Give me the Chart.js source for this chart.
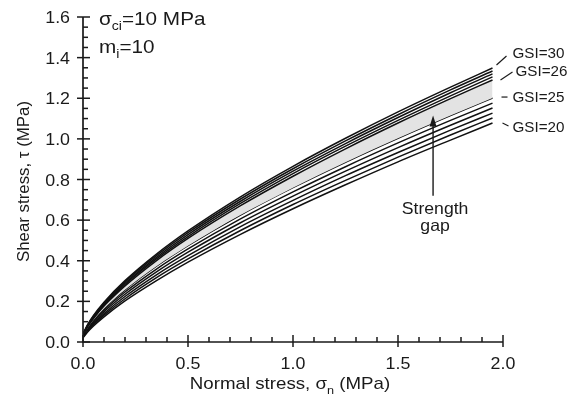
<!DOCTYPE html>
<html>
<head>
    <meta charset="utf-8">
    <style>
        html, body {
            margin: 0;
            padding: 0;
            background: #fff;
        }

        #wrap {
            width: 571px;
            height: 401px;
        }
    </style>
    <script src="https://cdn.jsdelivr.net/npm/chart.js"></script>
    <title>Shear strength envelopes</title>
</head>
<body>
    <div id="wrap"><canvas id="envelopes"></canvas></div>

    <script>
        // normal stress (MPa) where each envelope was read
        const sigmaN = [0, 0.02, 0.05, 0.1, 0.2, 0.35, 0.5, 0.75, 1.0, 1.25, 1.5, 1.75, 1.95];

        // shear stress (MPa) for each GSI value
        const gsi30 = [0.039, 0.082, 0.131, 0.196, 0.302, 0.433, 0.547, 0.715, 0.865, 1.003, 1.133, 1.255, 1.349];
        const gsi29 = [0.038, 0.080, 0.127, 0.191, 0.296, 0.425, 0.538, 0.704, 0.853, 0.990, 1.119, 1.241, 1.334];
        const gsi28 = [0.037, 0.077, 0.124, 0.186, 0.289, 0.417, 0.529, 0.693, 0.841, 0.977, 1.105, 1.227, 1.320];
        const gsi27 = [0.035, 0.075, 0.120, 0.182, 0.283, 0.409, 0.519, 0.682, 0.829, 0.964, 1.091, 1.212, 1.305];
        const gsi26 = [0.034, 0.072, 0.116, 0.177, 0.276, 0.401, 0.510, 0.671, 0.816, 0.951, 1.078, 1.198, 1.290];
        const gsi25 = [0.032, 0.067, 0.108, 0.165, 0.257, 0.373, 0.474, 0.625, 0.760, 0.885, 1.003, 1.115, 1.201];
        const gsi24 = [0.029, 0.063, 0.103, 0.157, 0.246, 0.359, 0.458, 0.606, 0.739, 0.863, 0.980, 1.091, 1.176];
        const gsi23 = [0.027, 0.059, 0.097, 0.149, 0.235, 0.345, 0.442, 0.587, 0.718, 0.841, 0.957, 1.067, 1.152];
        const gsi22 = [0.025, 0.055, 0.091, 0.140, 0.224, 0.331, 0.425, 0.568, 0.697, 0.819, 0.933, 1.043, 1.127];
        const gsi21 = [0.023, 0.051, 0.085, 0.132, 0.213, 0.317, 0.409, 0.549, 0.677, 0.796, 0.910, 1.019, 1.103];
        const gsi20 = [0.021, 0.047, 0.079, 0.124, 0.202, 0.302, 0.393, 0.530, 0.656, 0.774, 0.887, 0.994, 1.078];

        const envelopes = [gsi30, gsi29, gsi28, gsi27, gsi26, gsi25, gsi24, gsi23, gsi22, gsi21, gsi20];
        const gsiValues = [30, 29, 28, 27, 26, 25, 24, 23, 22, 21, 20];

        // axis ticks
        const xTicks = ['0.0', '0.5', '1.0', '1.5', '2.0'];
        const yTicks = ['0.0', '0.2', '0.4', '0.6', '0.8', '1.0', '1.2', '1.4', '1.6'];

        // curves that get a label at their right end
        const labelled = [30, 26, 25, 20];

        const FONT = '"Liberation Sans", Arial, Helvetica, sans-serif';
        const INK = '#1a1a1a';

        function putText(ctx, s, px, py, size, align, sx = 1.05) {
            ctx.save();
            ctx.font = size + 'px ' + FONT;
            ctx.textAlign = align;
            ctx.textBaseline = 'alphabetic';
            ctx.translate(px, py);
            ctx.scale(sx, 1);
            ctx.fillText(s, 0, 0);
            const w = ctx.measureText(s).width * sx;
            ctx.restore();
            return w;
        }

        function richWidth(ctx, parts, size, sx = 1.05) {
            let w = 0;
            parts.forEach(p => {
                ctx.font = (p.sub ? size * 0.68 : size) + 'px ' + FONT;
                w += ctx.measureText(p.t).width * sx;
            });
            return w;
        }

        // text with subscripts, drawn from the left edge
        function putRich(ctx, parts, px, py, size, sx = 1.05) {
            let cx = px;
            parts.forEach(p => {
                const fs = p.sub ? size * 0.68 : size;
                const dy = p.sub ? size * 0.28 : 0;
                cx += putText(ctx, p.t, cx, py + dy, fs, 'left', sx);
            });
        }

        const datasets = envelopes.map((vals, i) => ({
            label: 'GSI=' + gsiValues[i],
            data: sigmaN.map((s, k) => ({ x: s, y: vals[k] })),
            borderColor: '#111',
            borderWidth: 1.5,
            pointRadius: 0,
            cubicInterpolationMode: 'monotone',
            // shaded strength gap between GSI=26 and GSI=25
            fill: gsiValues[i] === 26 ? '+1' : false,
            backgroundColor: '#e3e3e3'
        }));

        const decor = {
            id: 'decor',
            afterDraw(chart) {
                const { ctx, chartArea: a, scales: { x, y } } = chart;
                ctx.save();
                ctx.strokeStyle = INK;
                ctx.fillStyle = INK;

                // axis lines
                ctx.lineWidth = 1.7;
                ctx.beginPath();
                ctx.moveTo(a.left, a.top);
                ctx.lineTo(a.left, a.bottom);
                ctx.lineTo(a.right, a.bottom);
                ctx.stroke();

                // x ticks: major every 0.5, minor every 0.1
                ctx.lineWidth = 1.5;
                for (let i = 0; i <= 20; i++) {
                    const px = x.getPixelForValue(i * 0.1);
                    const major = i % 5 === 0;
                    ctx.beginPath();
                    ctx.moveTo(px, a.bottom - (major ? 7 : 5));
                    ctx.lineTo(px, a.bottom + (major ? 5 : 0));
                    ctx.stroke();
                }
                // y ticks: major every 0.2, minor every 0.05
                for (let i = 0; i <= 32; i++) {
                    const py = y.getPixelForValue(i * 0.05);
                    const major = i % 4 === 0;
                    ctx.beginPath();
                    ctx.moveTo(a.left - (major ? 6 : 0), py);
                    ctx.lineTo(a.left + (major ? 7 : 5), py);
                    ctx.stroke();
                }

                // tick labels
                xTicks.forEach(t => {
                    putText(ctx, t, x.getPixelForValue(parseFloat(t)), a.bottom + 27, 16.5, 'center', 1.08);
                });
                yTicks.forEach(t => {
                    putText(ctx, t, a.left - 13, y.getPixelForValue(parseFloat(t)) + 6, 16.5, 'right', 1.08);
                });

                // axis titles
                const xTitle = [{ t: 'Normal stress, σ' }, { t: 'n', sub: true }, { t: ' (MPa)' }];
                const xw = richWidth(ctx, xTitle, 17, 1.1);
                putRich(ctx, xTitle, (a.left + a.right) / 2 - xw / 2 - 3, a.bottom + 47, 17, 1.1);

                const yTitle = [{ t: 'Shear stress, τ (MPa)' }];
                const yw = richWidth(ctx, yTitle, 16.5, 1.02);
                ctx.save();
                ctx.translate(29, (a.top + a.bottom) / 2 + 2);
                ctx.rotate(-Math.PI / 2);
                putRich(ctx, yTitle, -yw / 2, 0, 16.5, 1.02);
                ctx.restore();

                // material constants
                putRich(ctx, [{ t: 'σ' }, { t: 'ci', sub: true }, { t: '=10 MPa' }], a.left + 16, a.top + 8, 18.5, 1.12);
                putRich(ctx, [{ t: 'm' }, { t: 'i', sub: true }, { t: '=10' }], a.left + 16, a.top + 36, 18.5, 1.12);

                // GSI labels with short leaders at the curve ends
                const xEnd = x.getPixelForValue(sigmaN[sigmaN.length - 1]);
                const leaders = {
                    30: { from: [4, -3], to: [14, -12], text: [20, -10] },
                    26: { from: [8, 0], to: [20, -8], text: [23, -4] },
                    25: { from: [9, -1], to: [15, -1], text: [20, 4] },
                    20: { from: [10, 0], to: [16, 3], text: [20, 9] }
                };
                ctx.lineWidth = 1.2;
                labelled.forEach(g => {
                    const vals = envelopes[gsiValues.indexOf(g)];
                    const yEnd = y.getPixelForValue(vals[vals.length - 1]);
                    const L = leaders[g];
                    ctx.beginPath();
                    ctx.moveTo(xEnd + L.from[0], yEnd + L.from[1]);
                    ctx.lineTo(xEnd + L.to[0], yEnd + L.to[1]);
                    ctx.stroke();
                    putText(ctx, 'GSI=' + g, xEnd + L.text[0], yEnd + L.text[1], 14.5, 'left');
                });

                // arrow into the shaded band
                const ax = x.getPixelForValue(1.667);
                const tipY = y.getPixelForValue(1.115);
                const tailY = y.getPixelForValue(0.72);
                ctx.lineWidth = 1.4;
                ctx.beginPath();
                ctx.moveTo(ax, tailY);
                ctx.lineTo(ax, tipY + 8);
                ctx.stroke();
                ctx.beginPath();
                ctx.moveTo(ax, tipY);
                ctx.lineTo(ax - 3.5, tipY + 11);
                ctx.lineTo(ax + 3.5, tipY + 11);
                ctx.closePath();
                ctx.fill();
                putText(ctx, 'Strength', ax + 2, tailY + 18, 16.5, 'center', 1.07);
                putText(ctx, 'gap', ax + 2, tailY + 35, 16.5, 'center', 1.07);

                ctx.restore();
            }
        };

        new Chart(document.getElementById('envelopes'), {
            type: 'line',
            data: { datasets },
            options: {
                responsive: true,
                maintainAspectRatio: false,
                animation: false,
                layout: { padding: { left: 83, right: 68, top: 17, bottom: 59 } },
                plugins: {
                    legend: { display: false },
                    tooltip: { enabled: false }
                },
                scales: {
                    x: { type: 'linear', display: false, min: 0, max: 2 },
                    y: { type: 'linear', display: false, min: 0, max: 1.6 }
                }
            },
            plugins: [decor]
        });
    </script>
</body>
</html>
